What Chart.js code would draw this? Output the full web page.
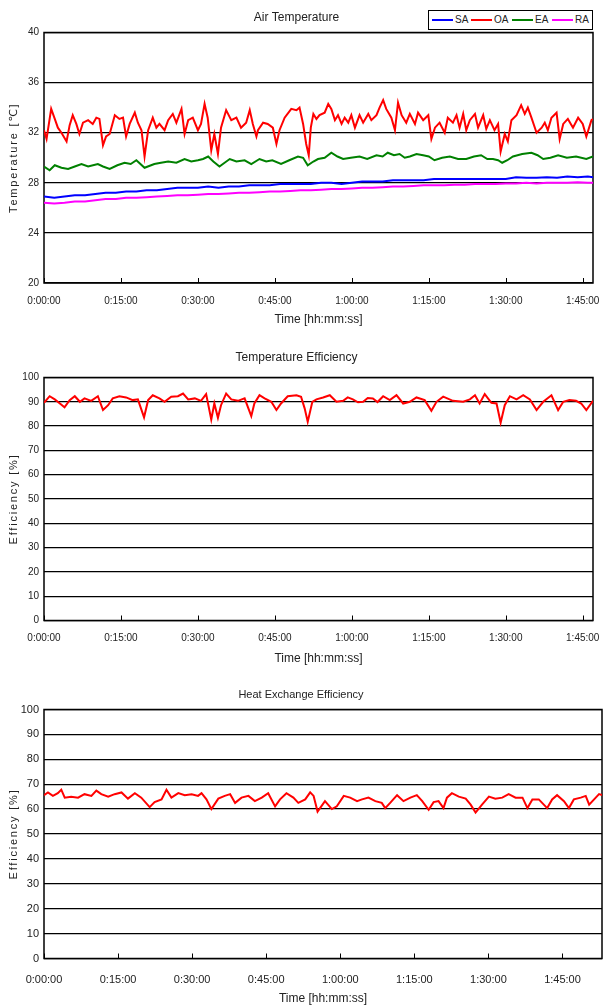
<!DOCTYPE html>
<html>
<head>
<meta charset="utf-8">
<script src="https://cdn.jsdelivr.net/npm/chart.js@4.4.0/dist/chart.umd.min.js"></script>
<style>
html, body { margin: 0; padding: 0; background: #fff; overflow: hidden; width: 603px; height: 1005px; }
canvas { position: absolute; left: 0; }
#c1 { top: 0; }
#c2 { top: 340px; }
#c3 { top: 680px; }
#legend { position: absolute; left: 428px; top: 10px; width: 163px; height: 18px; border: 1px solid #000; background: #fff;
  font: 10px 'Liberation Sans', Arial, sans-serif; color: #222; }
#legend .sw { position: absolute; top: 8px; height: 2px; width: 21px; }
#legend .lb { position: absolute; top: 3px; line-height: 12px; }
</style>
</head>
<body>
<canvas id="c1" width="603" height="330"></canvas>
<canvas id="c2" width="603" height="330"></canvas>
<canvas id="c3" width="603" height="330"></canvas>
<div id="legend">
  <span class="sw" style="left:3px;background:#0000ff"></span><span class="lb" style="left:26px">SA</span>
  <span class="sw" style="left:42px;background:#ff0000"></span><span class="lb" style="left:65px">OA</span>
  <span class="sw" style="left:83px;background:#008000"></span><span class="lb" style="left:106px">EA</span>
  <span class="sw" style="left:123px;background:#ff00ff"></span><span class="lb" style="left:146px">RA</span>
</div>
<script>
// time in minutes from start
var xTickMinutes = [0, 15, 30, 45, 60, 75, 90, 105];

// outdoor air (OA)
var oaTime = [0,0.5,1.4,2.1,2.7,3.4,4.4,5.0,5.6,6.3,
  6.9,7.6,8.6,9.5,10.2,10.8,11.5,12.1,12.8,13.8,
  14.7,15.4,16.0,16.7,17.7,18.3,19.0,19.6,20.3,21.2,
  21.9,22.5,23.5,24.2,25.1,25.8,26.8,27.4,28.1,29.0,
  30.0,30.6,31.3,31.9,32.6,33.2,33.9,34.5,35.5,36.5,
  37.5,38.4,39.4,40.1,40.7,41.4,41.7,42.7,43.6,44.6,
  45.3,45.9,46.9,48.2,49.2,49.8,50.5,51.1,51.6,52.0,
  52.5,53.1,53.7,54.7,55.4,56.0,56.7,57.3,58.0,58.6,
  59.3,59.9,60.6,61.5,62.2,63.2,63.8,64.8,65.4,66.1,
  66.7,67.7,68.4,69.0,69.7,70.6,71.3,72.3,72.9,73.9,
  74.9,75.5,76.2,77.1,78.1,78.7,79.7,80.4,81.0,81.7,
  82.3,83.0,84.0,84.6,85.6,86.2,86.9,87.8,88.5,89.0,
  89.8,90.4,91.1,92.1,93.0,93.7,94.3,95.0,96.0,97.0,
  97.6,98.2,98.9,99.9,100.5,101.2,102.1,103.1,104.1,105.0,
  105.7,106.7,107];
var oaTemp = [32.2,31.5,33.9,33.1,32.4,32.0,31.3,32.6,33.4,32.7,
  31.9,32.8,33.0,32.7,33.2,33.1,31.0,31.7,31.9,33.4,
  33.1,33.2,31.7,32.7,33.6,32.8,32.2,30.1,32.2,33.2,
  32.4,32.7,32.2,33.0,33.5,32.8,33.9,31.9,33.0,33.2,
  32.2,32.7,34.3,33.2,30.6,31.9,30.3,32.4,33.8,33.0,
  33.2,32.4,32.8,33.8,32.7,31.7,32.2,32.8,32.7,32.4,
  31.1,32.2,33.2,33.9,33.8,34.0,32.7,31.1,30.2,32.4,
  33.5,33.1,33.4,33.6,34.3,33.9,33.0,33.4,32.7,33.2,
  32.8,33.4,32.4,33.4,32.8,33.5,33.0,33.4,34.0,34.6,
  33.9,33.2,32.2,34.4,33.4,32.8,33.5,32.7,33.6,33.0,
  33.4,31.5,32.4,32.8,32.0,33.2,32.8,33.4,32.4,33.5,
  32.2,33.0,33.5,32.4,33.4,32.3,33.0,32.2,32.7,30.5,
  31.9,31.3,33.0,33.4,34.2,33.5,34.0,33.2,32.0,32.4,
  32.8,32.2,33.2,33.6,31.5,32.7,33.1,32.4,33.2,32.7,
  31.7,33.0,33.1];

// exhaust air (EA)
var eaTime = [0,1.1,2.1,3.4,4.7,6,7.3,8.6,10.5,11.5,
  12.8,14.3,15.7,16.9,18,19.6,21.5,22.8,24.2,25.8,
  27.4,28.7,30,31,32,33,34.2,35.2,36.2,37.5,
  39.1,40.4,42,43.3,44.5,46.2,47.8,49.5,50.5,51.4,
  52.5,53.4,54.7,56,57.2,58.3,59.8,61.5,63,64.8,
  66,67,68.2,69.3,70.3,71.3,72.6,73.9,75,76.1,
  77.6,79.1,80.7,82.3,83.8,85.2,86.4,87.5,88.5,89.3,
  90.3,91.4,93.2,95,96.2,97.3,98.7,100.2,101.9,103.7,
  105.7,107];
var eaTemp = [29.3,29.0,29.4,29.2,29.1,29.3,29.5,29.3,29.5,29.3,
  29.1,29.4,29.6,29.5,29.8,29.2,29.5,29.6,29.7,29.6,
  29.9,29.7,29.8,29.9,30.1,29.7,29.3,29.6,29.9,29.7,
  29.8,29.5,29.9,29.7,29.8,29.5,29.8,30.1,30.0,29.4,
  29.7,29.9,30.0,30.4,30.1,29.9,30.0,30.1,29.9,30.2,
  30.1,30.4,30.2,30.3,30.0,30.1,30.3,30.2,30.1,29.8,
  30.0,30.1,29.9,29.9,30.1,30.2,29.9,29.9,29.8,29.6,
  29.8,30.1,30.3,30.4,30.2,29.9,30.0,30.2,30.0,30.1,
  29.9,30.1];

// supply air (SA) and return air (RA)
var trendTime = [0,2,4,6,8,10,12,14,16,18,
  20,22,24,26,28,30,32,34,36,38,
  40,42,44,46,48,50,52,54,56,58,
  60,62,64,66,68,70,72,74,76,78,
  80,82,84,86,88,90,92,94,96,98,
  100,102,104,106,107];
var saTemp = [26.9,26.8,26.9,27.0,27.0,27.1,27.2,27.2,27.3,27.3,
  27.4,27.4,27.5,27.6,27.6,27.6,27.7,27.6,27.7,27.7,
  27.8,27.8,27.8,27.9,27.9,27.9,27.9,28.0,28.0,27.9,
  28.0,28.1,28.1,28.1,28.2,28.2,28.2,28.2,28.3,28.3,
  28.3,28.3,28.3,28.3,28.3,28.3,28.45,28.4,28.4,28.45,
  28.4,28.5,28.45,28.5,28.45];
var raTemp = [26.4,26.35,26.4,26.5,26.5,26.6,26.7,26.7,26.8,26.8,
  26.85,26.9,26.95,27.0,27.0,27.05,27.1,27.1,27.15,27.2,
  27.2,27.25,27.3,27.3,27.35,27.4,27.4,27.45,27.5,27.5,
  27.55,27.6,27.6,27.65,27.7,27.7,27.75,27.8,27.8,27.8,
  27.85,27.85,27.9,27.9,27.9,27.95,27.95,28.0,27.95,28.0,
  28.0,28.0,28.05,28.0,28.0];

// temperature efficiency
var teTime = [0,1.1,2.1,3.1,4.0,5.0,6.0,7.0,7.9,9.2,
  10.5,11.5,12.5,13.4,14.7,16.0,17.3,18.3,19.5,20.3,
  21.2,22.5,23.5,24.8,26.1,27.1,28.1,29.4,30.6,31.6,
  32.6,33.2,33.9,34.5,35.5,36.5,37.8,39.1,40.4,41.0,
  42.0,43.0,44.3,45.3,46.2,47.5,49.2,50.1,50.8,51.4,
  52.3,53.1,54.4,55.7,57.0,58.3,59.2,60.2,61.2,62.2,
  63.1,64.1,65.0,66.1,67.4,68.7,70.0,71.3,72.6,74.2,
  75.5,76.5,77.8,79.7,81.7,83.0,84.0,84.9,85.9,87.2,
  88.2,89.0,89.8,90.8,92.1,93.4,94.7,96.0,97.3,98.9,
  100.2,101.2,102.4,103.7,104.7,105.7,107];
var teValue = [89.6,92.3,91.0,89.3,87.7,90.7,92.3,90.0,91.4,90.4,
  92.3,86.6,88.6,91.4,92.3,91.8,90.7,91.0,83.6,90.7,
  92.7,91.4,90.0,92.1,92.3,93.4,91.0,91.4,90.4,93.2,
  82.7,89.3,83.4,88.6,93.4,91.0,90.4,91.4,84.1,89.3,
  92.7,91.4,90.0,86.6,89.3,92.3,92.7,92.1,87.3,81.8,
  90.0,91.0,91.8,92.7,90.0,90.4,91.8,91.0,89.8,90.0,
  91.6,91.4,89.9,92.3,90.7,92.7,89.3,90.0,91.8,90.7,
  86.3,90.0,92.1,90.4,90.0,91.0,92.7,89.3,93.2,89.6,
  89.3,81.4,88.6,92.3,91.0,92.7,91.0,86.6,90.0,92.7,
  86.6,90.0,90.7,90.4,89.3,86.6,90.4];

// heat exchange efficiency
var heTime = [0,0.8,1.8,2.8,3.5,4.2,5.5,6.9,8.2,9.6,
  10.6,11.6,13.0,14.3,15.7,17.0,18.4,19.7,21.4,22.4,
  23.8,24.8,25.8,27.2,28.5,29.9,31.2,31.9,32.9,33.9,
  35.3,36.6,37.7,38.7,40.0,41.4,42.7,44.1,45.4,46.8,
  47.8,49.1,50.5,51.5,52.9,53.9,54.6,55.4,56.9,58.3,
  59.3,60.7,62.0,63.4,64.4,65.7,67.1,68.4,69.1,70.1,
  71.5,72.8,74.2,75.5,76.6,77.9,78.9,79.9,80.9,81.6,
  82.6,84.0,85.4,86.4,87.4,88.7,90.1,91.4,92.8,94.1,
  95.5,96.9,97.9,98.9,100.2,101.9,102.9,103.9,105.3,106.3,
  107.3,108.7,109.7,110.4,111.4,112.4,113];
var heValue = [65.6,66.7,65.3,66.4,67.8,64.6,65.0,64.6,66.0,65.3,
  67.4,66.0,65.0,66.0,66.7,64.2,66.4,64.6,60.8,62.8,
  63.9,67.8,64.6,66.4,65.6,66.0,65.3,66.4,63.9,60.0,
  64.2,65.3,66.0,62.5,64.6,65.3,63.2,64.6,66.4,61.1,
  63.9,66.4,64.6,62.5,63.9,66.7,65.3,59.0,63.2,60.0,
  61.1,65.3,64.6,63.2,63.9,64.6,63.2,62.5,60.4,62.5,
  65.6,63.2,64.6,65.6,63.2,59.7,62.8,63.2,60.4,64.6,
  66.4,65.0,64.2,61.8,58.6,61.8,65.0,64.2,64.6,66.0,
  64.6,64.6,60.4,63.9,63.9,60.4,63.9,65.6,63.2,60.4,
  63.9,64.6,65.3,61.8,63.9,66.0,65.6];

var FONT = "'Liberation Sans', 'DejaVu Sans', Arial, sans-serif";
var TEXT = '#222';

function pts(t, v) {
  return t.map(function (x, i) { return { x: x, y: v[i] }; });
}

function hms(m) {
  var h = Math.floor(m / 60), mm = m % 60;
  return h + ':' + String(mm).padStart(2, '0') + ':00';
}

function line(label, t, v, color) {
  return { label: label, data: pts(t, v), borderColor: color, backgroundColor: color,
    borderWidth: 2, pointRadius: 0, tension: 0, fill: false };
}

// box round the plot and the small inner ticks on the time axis
var frame = {
  id: 'frame',
  beforeDatasetsDraw: function (chart) {
    var ctx = chart.ctx, a = chart.chartArea, x = chart.scales.x;
    ctx.save();
    ctx.strokeStyle = '#000';
    ctx.lineWidth = 1.5;
    ctx.strokeRect(a.left, a.top, a.right - a.left, a.bottom - a.top);
    ctx.lineWidth = 1;
    x.ticks.forEach(function (t) {
      var px = Math.round(x.getPixelForValue(t.value)) + 0.5;
      ctx.beginPath();
      ctx.moveTo(px, a.bottom);
      ctx.lineTo(px, a.bottom - 5);
      ctx.stroke();
    });
    ctx.restore();
  }
};

// the vertical axis titles are letter-spaced in the original
var spacedTitle = {
  id: 'spacedTitle',
  afterLayout: function (chart) {
    var s = chart.scales.y;
    if (s._spaced) return;
    var orig = s.drawTitle;
    s.drawTitle = function () {
      this.ctx.save();
      this.ctx.letterSpacing = '1.8px';
      orig.apply(this, arguments);
      this.ctx.restore();
    };
    s._spaced = true;
  }
};

function makeChart(id, o) {
  return new Chart(document.getElementById(id), {
    type: 'line',
    data: { datasets: o.datasets },
    options: {
      responsive: false,
      animation: false,
      layout: { padding: { left: 0, right: o.padRight, top: 0, bottom: 0 } },
      plugins: {
        legend: { display: false },
        tooltip: { enabled: false },
        title: { display: true, text: o.title, color: TEXT,
          font: { family: FONT, size: o.titleSize, weight: 'normal' },
          padding: { top: o.titleTop, bottom: o.titleBottom } }
      },
      scales: {
        x: {
          type: 'linear', min: 0, max: o.xMax,
          grid: { display: false, drawTicks: true, tickLength: o.tickGap },
          border: { display: false },
          ticks: { color: TEXT, font: { family: FONT, size: o.tickSize }, padding: 3,
            maxRotation: 0, autoSkip: false, callback: function (v) { return hms(v); } },
          afterBuildTicks: function (s) { s.ticks = xTickMinutes.map(function (v) { return { value: v }; }); },
          afterFit: function (s) { s.height = o.xHeight; },
          title: { display: true, text: 'Time [hh:mm:ss]', color: TEXT,
            font: { family: FONT, size: 12 }, padding: { top: 0, bottom: o.xTitlePad } }
        },
        y: {
          min: o.yMin, max: o.yMax,
          grid: { color: '#000', lineWidth: 1.3, drawTicks: false },
          border: { display: false },
          ticks: { stepSize: o.yStep, color: TEXT, font: { family: FONT, size: o.tickSize }, padding: 5 },
          afterFit: function (s) { s.width = 44; },
          title: { display: true, text: o.yTitle, color: TEXT,
            font: { family: FONT, size: 11 }, padding: { top: 7, bottom: 0 } }
        }
      }
    },
    plugins: [frame, spacedTitle]
  });
}

makeChart('c1', {
  title: 'Air Temperature', titleSize: 12, titleTop: 10, titleBottom: 8.1,
  padRight: 10, xMax: 107, xHeight: 47, tickGap: 9, xTitlePad: 3.5, tickSize: 10,
  yMin: 20, yMax: 40, yStep: 4, yTitle: 'Temperature [℃]',
  datasets: [
    line('SA', trendTime, saTemp, '#0000ff'),
    line('OA', oaTime, oaTemp, '#ff0000'),
    line('EA', eaTime, eaTemp, '#008000'),
    line('RA', trendTime, raTemp, '#ff00ff')
  ]
});

makeChart('c2', {
  title: 'Temperature Efficiency', titleSize: 12, titleTop: 10, titleBottom: 13.1,
  padRight: 10, xMax: 107, xHeight: 49.5, tickGap: 8.8, xTitlePad: 3.8, tickSize: 10,
  yMin: 0, yMax: 100, yStep: 10, yTitle: 'Efficiency [%]',
  datasets: [ line('Temperature Efficiency', teTime, teValue, '#ff0000') ]
});

makeChart('c3', {
  title: 'Heat Exchange Efficiency', titleSize: 11, titleTop: 8.4, titleBottom: 7.9,
  padRight: 1, xMax: 113, xHeight: 51.5, tickGap: 11.9, xTitlePad: 3.8, tickSize: 11,
  yMin: 0, yMax: 100, yStep: 10, yTitle: 'Efficiency [%]',
  datasets: [ line('Heat Exchange Efficiency', heTime, heValue, '#ff0000') ]
});
</script>
</body>
</html>
